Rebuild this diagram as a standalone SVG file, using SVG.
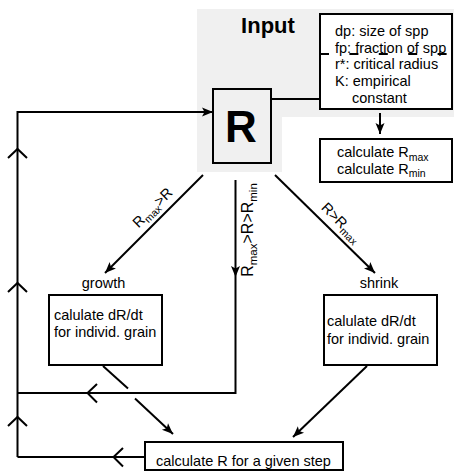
<svg xmlns="http://www.w3.org/2000/svg" width="454" height="471" viewBox="0 0 454 471">
<style>
text{font-family:"Liberation Sans",Arial,sans-serif;font-size:14.5px;fill:#000}
text.title{font-size:22px;font-weight:bold}
text.big{font-size:44px;font-weight:bold}
text.vlab{font-size:16px}
tspan.sub{font-size:10.5px}
text.vlab tspan.sub{font-size:11.5px}
.box{fill:#fff;stroke:#000;stroke-width:2}
.ln{fill:none;stroke:#000;stroke-width:2}
</style>
<defs>
<marker id="arr" markerUnits="userSpaceOnUse" markerWidth="14" markerHeight="12" viewBox="0 -6 12 12" refX="11" refY="0" orient="auto">
<path d="M0,-4.5 L11,0 L0,4.5 L2.5,0 z" fill="#000"/>
</marker>
</defs>
<g id="input-area">
<path d="M197,9 H454 V117 H282 V172 H197 Z" fill="#f0f0f0"/>
<text class="title" x="268" y="33" text-anchor="middle">Input</text>
</g>
<g id="node-R">
<rect x="213" y="89" width="58" height="74" fill="none" stroke="#000" stroke-width="2"/>
<text class="big" x="241" y="142" text-anchor="middle">R</text>
</g>
<g id="node-params">
<rect class="box" x="320" y="14" width="132" height="95"/>
<line x1="320" y1="54" x2="452" y2="54" stroke="#000" stroke-width="2" stroke-dasharray="9 20.4"/>
<text x="335" y="36">dp: size of spp</text>
<text x="335" y="52.5">fp:  fraction of spp</text>
<text x="335" y="69.3">r*:  critical radius</text>
<text x="335" y="86">K: empirical</text>
<text x="352" y="103">constant</text>
</g>
<g id="node-calc-rmax">
<rect class="box" x="320" y="139" width="132" height="43"/>
<text x="337" y="157">calculate R<tspan class="sub" dy="3.5">max</tspan></text>
<text x="337" y="173.5">calculate R<tspan class="sub" dy="3.5">min</tspan></text>
</g>
<g id="node-growth">
<text x="103.5" y="288" text-anchor="middle">growth</text>
<rect class="box" x="49" y="295" width="113" height="70"/>
<text x="54" y="319.5">calulate dR/dt</text>
<text x="54" y="337">for individ. grain</text>
</g>
<g id="node-shrink">
<text x="379" y="288" text-anchor="middle">shrink</text>
<rect class="box" x="324" y="295" width="113" height="70"/>
<text x="327" y="326">calulate dR/dt</text>
<text x="327" y="343.5">for individ. grain</text>
</g>
<g id="node-calc-r">
<rect class="box" x="145" y="442" width="198" height="28"/>
<text x="156" y="466">calculate R for a given step</text>
</g>
<g id="connectors">
<line class="ln" x1="271" y1="99" x2="320" y2="99"/>
<line class="ln" x1="380" y1="113" x2="380" y2="134" marker-end="url(#arr)"/>
<polyline class="ln" points="17.5,457 17.5,112 213,112" marker-end="url(#arr)"/>
<line class="ln" x1="203" y1="175" x2="105" y2="273" marker-end="url(#arr)"/>
<line class="ln" x1="275" y1="175" x2="375" y2="273" marker-end="url(#arr)"/>
<polyline class="ln" points="235.5,180 235.5,393 17.5,393"/>
<path d="M235.5,277 L231,266 L235.5,268.5 L240,266 Z" fill="#000"/>
<line class="ln" x1="17.5" y1="457" x2="145" y2="457"/>
<line class="ln" x1="103" y1="366" x2="128" y2="388.5"/>
<line class="ln" x1="135" y1="398.5" x2="173" y2="434" marker-end="url(#arr)"/>
<line class="ln" x1="367" y1="366" x2="293" y2="437" marker-end="url(#arr)"/>
<polyline class="ln" points="8,158 17.5,149 27,158"/>
<polyline class="ln" points="8,292 17.5,283 27,292"/>
<polyline class="ln" points="8,426 17.5,417 27,426"/>
<polyline class="ln" points="97,384 87.5,393 97,402.5"/>
<polyline class="ln" points="123,448 113.5,457 123,466.5"/>
<text x="156" y="211" text-anchor="middle" transform="rotate(-45 156 211)">R<tspan class="sub" dy="3.5">max</tspan><tspan dy="-3.5">&gt;R</tspan></text>
<text x="338" y="226" text-anchor="middle" transform="rotate(45 338 226)">R&gt;R<tspan class="sub" dy="3.5">max</tspan></text>
<text class="vlab" x="253" y="230" text-anchor="middle" transform="rotate(-90 253 230)">R<tspan class="sub" dy="3.5">max</tspan><tspan dy="-3.5">&gt;R&gt;R</tspan><tspan class="sub" dy="3.5">min</tspan></text>
</g>
</svg>
